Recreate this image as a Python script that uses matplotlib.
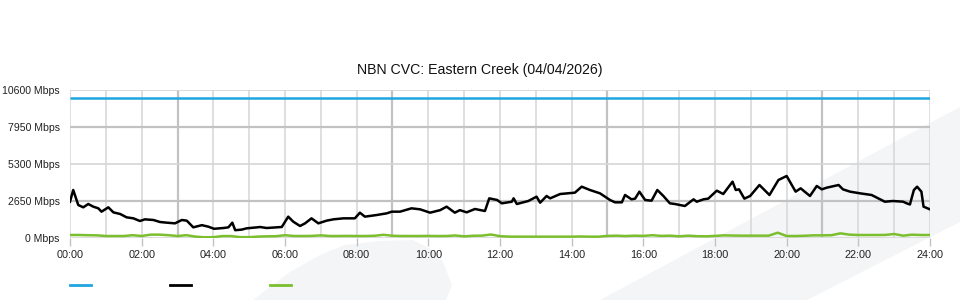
import matplotlib
matplotlib.use("Agg")
import matplotlib.pyplot as plt
from matplotlib.patches import Polygon
from matplotlib.lines import Line2D

plt.rcParams['font.family'] = ['Liberation Sans', 'DejaVu Sans']

# ---------------- data ----------------
title = "NBN CVC: Eastern Creek (04/04/2026)"
ytick_values = [0, 2650, 5300, 7950, 10600]
ytick_labels = ["0 Mbps", "2650 Mbps", "5300 Mbps", "7950 Mbps", "10600 Mbps"]
xtick_hours = list(range(0, 25, 2))
xtick_labels = ["%02d:00" % h for h in xtick_hours]

capacity_hours = [0, 24]
capacity_mbps = [10000, 10000]

traffic_hours = [0.00, 0.09, 0.23, 0.37, 0.51, 0.65, 0.79, 0.88, 1.07, 1.21, 1.40, 1.58,
                 1.77, 1.95, 2.09, 2.33, 2.51, 2.70, 2.93, 3.12, 3.26, 3.44, 3.68, 3.86,
                 4.02, 4.30, 4.42, 4.53, 4.61, 4.79, 4.93, 5.21, 5.30, 5.49, 5.91, 6.09,
                 6.23, 6.42, 6.56, 6.74, 6.93, 7.16, 7.35, 7.63, 7.95, 8.09, 8.23, 8.56,
                 8.84, 8.98, 9.21, 9.53, 9.77, 10.05, 10.33, 10.51, 10.74, 10.88, 11.07,
                 11.30, 11.58, 11.70, 11.92, 12.05, 12.33, 12.38, 12.47, 12.79, 13.02,
                 13.12, 13.30, 13.40, 13.68, 14.09, 14.28, 14.51, 14.79, 15.07, 15.21,
                 15.40, 15.49, 15.67, 15.77, 15.89, 16.05, 16.23, 16.39, 16.56, 16.74,
                 16.88, 17.16, 17.40, 17.49, 17.68, 17.81, 18.05, 18.23, 18.49, 18.58,
                 18.67, 18.82, 18.98, 19.24, 19.52, 19.77, 20.00, 20.25, 20.39, 20.65,
                 20.84, 20.98, 21.12, 21.45, 21.57, 21.77, 22.05, 22.37, 22.74, 22.97,
                 23.25, 23.35, 23.44, 23.55, 23.64, 23.76, 23.82, 24.00]
traffic_mbps = [2600, 3438, 2363, 2197, 2435, 2244, 2125, 1886, 2197, 1838, 1719, 1480,
                1408, 1217, 1337, 1289, 1146, 1098, 1050, 1289, 1241, 764, 920, 812,
                660, 720, 764, 1098, 560, 600, 693, 760, 788, 716, 788, 1528,
                1170, 859, 1050, 1408, 1050, 1241, 1337, 1408, 1408, 1814, 1528, 1647,
                1767, 1886, 1886, 2125, 2053, 1814, 1995, 2244, 1814, 1995, 1838,
                2077, 1934, 2841, 2722, 2483, 2600, 2841, 2435, 2650, 2960,
                2530, 3008, 2841, 3151, 3247, 3676, 3438, 3199, 2722, 2555,
                2555, 3080, 2770, 2818, 3318, 2722, 2674, 3438, 3008, 2483,
                2435, 2292, 2770, 2600, 2770, 2818, 3390, 3151, 4034, 3438,
                3485, 2818, 3008, 3796, 3080, 4154, 4440, 3318, 3557, 3008,
                3724, 3485, 3605, 3796, 3485, 3318, 3199, 3080, 2600, 2650,
                2600, 2483, 2400, 3438, 3676, 3318, 2244, 2053]

green_hours = [i / 4 for i in range(97)]
green_mbps = [215, 215, 200, 190, 143, 143, 143, 200, 143, 240, 240, 200,
              143, 200, 100, 50, 60, 140, 140, 60, 60, 100, 120, 130,
              200, 143, 143, 150, 190, 143, 143, 150, 143, 143, 160, 230,
              160, 143, 143, 143, 150, 140, 143, 180, 120, 160, 170, 250,
              130, 100, 95, 95, 95, 95, 95, 95, 95, 110, 95, 95,
              150, 167, 140, 167, 150, 200, 150, 167, 120, 167, 130, 120,
              150, 190, 175, 167, 167, 167, 167, 380, 143, 143, 160, 190,
              190, 200, 334, 240, 215, 215, 215, 220, 286, 167, 238, 215, 215]

# ---------------- colours ----------------
c_blue = "#1fa5e0"
c_black = "#000000"
c_green = "#7bbf2f"
c_grid = "#d6d6d6"
c_grid_major = "#c2c2c2"
c_wm = "#f4f5f7"

W, H = 960, 300
fig = plt.figure(figsize=(W / 100, H / 100), dpi=100)
fig.patch.set_facecolor("white")

def fpt(x, y):
    return (x / W, 1 - y / H)

# background watermark shapes (decoration)
wm1 = Polygon([fpt(600, 300), fpt(960, 107), fpt(960, 222), fpt(807, 300)],
              closed=True, transform=fig.transFigure, facecolor=c_wm,
              edgecolor="none", zorder=0)
wm2 = Polygon([fpt(253, 300), fpt(290, 272), fpt(320, 255), fpt(345, 245),
               fpt(380, 241), fpt(413, 240), fpt(432, 250), fpt(443, 262),
               fpt(452, 285), fpt(446, 300)],
              closed=True, transform=fig.transFigure, facecolor=c_wm,
              edgecolor="none", zorder=0)
fig.patches.extend([wm1, wm2])

ax = fig.add_axes([70 / W, 1 - 238 / H, 860 / W, 148 / H])
ax.set_facecolor("none")
ax.set_zorder(1)

ax.set_xlim(0, 24)
ax.set_ylim(0, 10600)

# grid
for h in range(0, 25):
    major = (h % 6 == 3)
    ax.axvline(h, color=c_grid_major if major else c_grid,
               lw=1.6 if major else 1.1, zorder=1)
for v in ytick_values:
    major = v in (2650, 7950)
    ax.axhline(v, color=c_grid_major if major else c_grid,
               lw=1.6 if major else 1.2, zorder=1)

for s in ax.spines.values():
    s.set_visible(False)

ax.plot(capacity_hours, capacity_mbps, color=c_blue, lw=1.8, zorder=3,
        solid_capstyle="butt")
ax.plot(green_hours, green_mbps, color=c_green, lw=1.8, zorder=3)
ax.plot(traffic_hours, traffic_mbps, color=c_black, lw=1.8, zorder=4,
        solid_joinstyle="round")

ax.set_yticks(ytick_values)
ax.set_yticklabels(ytick_labels)
ax.set_xticks(xtick_hours)
ax.set_xticklabels(xtick_labels)
ax.tick_params(axis="y", length=0, pad=7.5, labelsize=7.6, labelcolor="#222222")
ax.tick_params(axis="x", length=5.5, width=1.0, color=c_grid_major, pad=3,
               labelsize=7.8, labelcolor="#222222")

fig.text(0.5, 1 - 70 / H, title, ha="center", va="center", fontsize=10.2,
         color="#111111")

# legend swatches (labels are empty in the reference)
for x0, col in [(70, c_blue), (170, c_black), (270, c_green)]:
    fig.add_artist(Line2D([x0 / W, (x0 + 21) / W], [1 - 285 / H, 1 - 285 / H],
                          transform=fig.transFigure, color=col, lw=2.0))

fig.savefig("out.png", dpi=100)
